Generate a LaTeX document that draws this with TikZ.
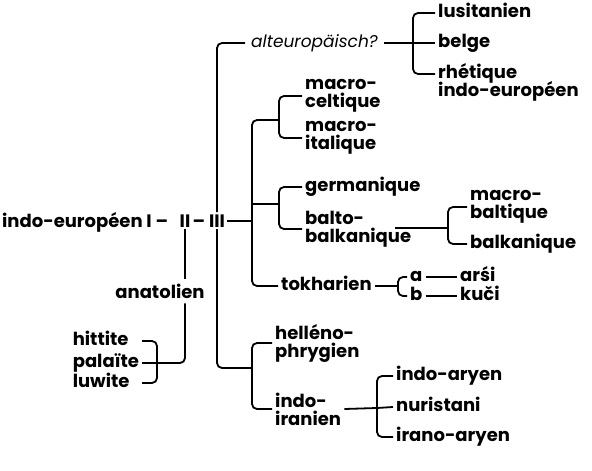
\documentclass[tikz,border=0pt]{standalone}
\usepackage{fontspec}
\setmainfont{Poppins}
\usepackage{tikz}
\usetikzlibrary{positioning,calc}
\definecolor{ink}{HTML}{000000}
\tikzset{ln/.style={line width=1.8pt,draw=ink,rounded corners=5pt},
  lbl/.style={font=\bfseries\fontsize{18}{18}\selectfont,text=ink,inner sep=3pt},
  lf/.style={lbl,anchor=west,text height=9.5pt,text depth=0pt},
  tw/.style={lbl,anchor=west,align=left},
  rt/.style={lbl,anchor=base,inner sep=2pt},
  hp/.style={lf,anchor=east,text width=66pt}}

\begin{document}
\begin{tikzpicture}[x=1pt,y=-1pt]
\useasboundingbox (0,0) rectangle (592,471);
\node[rt,anchor=base east] (r1) at (154,227) {indo-européen I};
\node[rt] (s1) at (162,227) {–};
\node[rt] (r2) at (185,227) {II};
\node[rt] (s2) at (199,227) {–};
\node[rt] (r3) at (217,227) {III};
\node[lbl,inner sep=5pt] (anat) at (160,291) {anatolien};
\foreach \n/\y/\t in {hit/341/hittite,pal/363/palaïte,luw/383/luwite}{\node[hp] (\n) at (142,\y) {\t};}
\node[lf,font=\itshape\fontsize{17}{18}\selectfont,inner xsep=6pt] (alt) at (245,43) {alteuropäisch?};
\foreach \n/\y/\t in {lus/13/lusitanien,bel/43/belge,rhe/74/rhétique,rhe2/92/indo-européen}{\node[lf] (\n) at (435,\y) {\t};}
\node[tw] (mc) at (302,96) {macro-\\celtique};
\node[tw] (mi) at (302,138) {macro-\\italique};
\node[lf] (ger) at (302,187) {germanique};
\node[tw] (bb) at (302,229) {balto-\\balkanique};
\node[tw] (mb) at (467,207) {macro-\\baltique};
\node[lf] (bal) at (467,244) {balkanique};
\node[lf] (tok) at (278,286) {tokharien};
\node[lf] (ta) at (407,277) {a};
\node[lf] (tb) at (407,296) {b};
\node[lf] (arsi) at (457,277) {arśi};
\node[lf] (kuci) at (457,296) {kuči};
\node[tw] (hel) at (272,343) {helléno-\\phrygien};
\node[tw] (iir) at (272,409) {indo-\\iranien};
\foreach \n/\y/\t in {ia/376/indo-aryen,nur/407/nuristani,ira/437/irano-aryen}{\node[lf] (\n) at (393,\y) {\t};}
\coordinate (jp) at (157,363);
\coordinate (jl) at (413,43);
\coordinate (jo) at (252,120);
\coordinate (jm) at (279,120);
\coordinate (jg) at (279,204);
\coordinate (bbo) at (395,228);
\coordinate (jb) at (448,228);
\coordinate (jt) at (398,286);
\coordinate (j3) at (252,368);
\coordinate (ji) at (377,408);
\draw[ln] (r2.south) -- (r2.south |- anat.north);
\draw[ln] (r2.south |- anat.south) |- (pal.east);
\draw[ln] (hit.east) -| (jp) |- (luw.east);
\draw[ln] (r3.north) |- (alt.west);
\draw[ln] (alt.east) -- (bel.west);
\draw[ln] (lus.west) -| (jl) |- (rhe.west);
\draw[ln] (r3.east) -- (r3.east -| jo);
\draw[ln] (jm) -- (jo) |- (tok.west);
\draw[ln] (jg) -- (jg -| jo);
\draw[ln] (mc.west) -| (jm) |- (mi.west);
\draw[ln] (ger.west) -| (jg) |- (bb.west);
\draw[ln] (bbo) -- (jb);
\draw[ln] (mb.west) -| (jb) |- (bal.west);
\draw[ln] (tok.east) -- (jt);
\draw[ln] (ta.west) -| (jt) |- (tb.west);
\draw[ln] (ta.east) -- (arsi.west);
\draw[ln] (tb.east) -- (kuci.west);
\draw[ln] (r3.south) |- (j3);
\draw[ln] (hel.west) -| (j3) |- (iir.west);
\draw[ln] (iir.east) -- (ji);
\draw[ln] (ia.west) -| (ji) |- (ira.west);
\draw[ln] (ji) -- (nur.west);
\end{tikzpicture}
\end{document}
